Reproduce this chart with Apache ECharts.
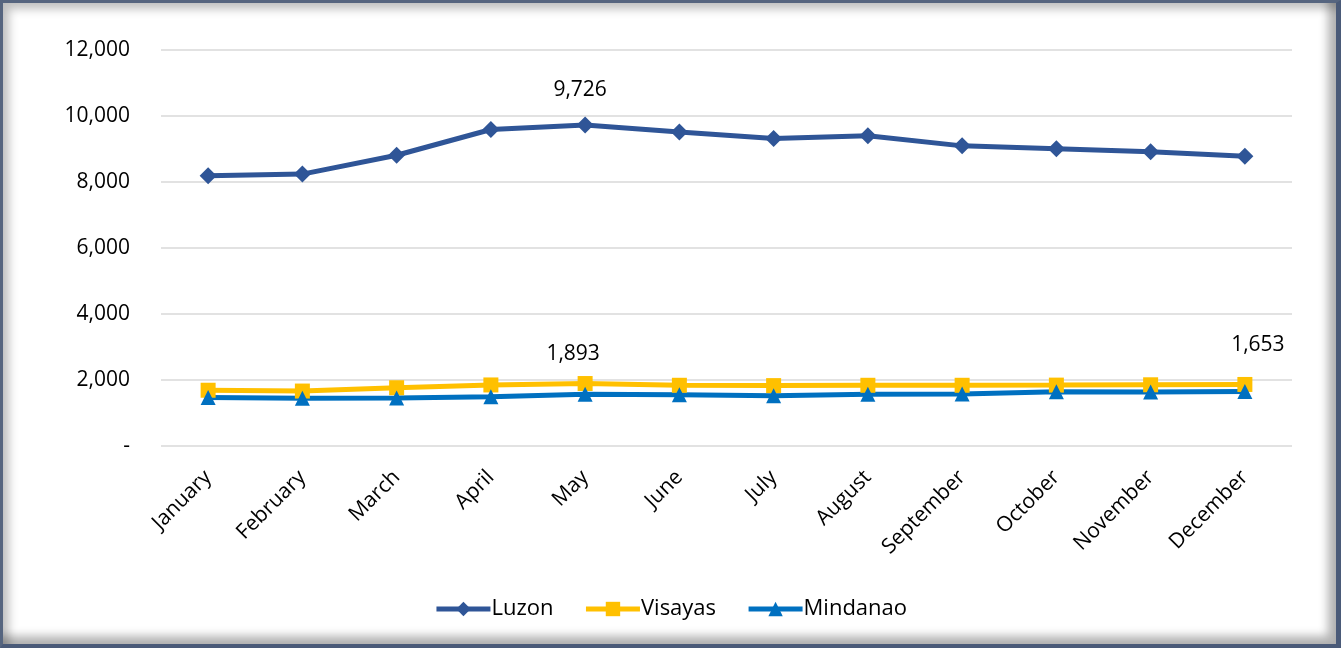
<!DOCTYPE html>
<html><head><meta charset="utf-8">
<script src="https://cdn.jsdelivr.net/npm/echarts@6/dist/echarts.min.js"></script>
<style>
html,body{margin:0;padding:0;background:#fff;}
#frame{position:absolute;left:0;top:0;width:1341px;height:648px;box-sizing:border-box;border-top:3px solid #56657f;border-left:3px solid #56657f;border-right:5px solid #4a5a78;border-bottom:4px solid #4a5a78;box-shadow:inset 6px 6px 10px rgba(0,0,0,0.25), inset -8px -8px 10px rgba(0,0,0,0.3);}
#chart{position:absolute;left:0;top:0;width:1341px;height:648px;}
</style></head><body>
<div id="chart"></div><div id="frame"></div>
<script>
const months = ['January','February','March','April','May','June','July','August','September','October','November','December'];
const luzon = [8190, 8240, 8810, 9590, 9726, 9515, 9320, 9400, 9095, 9005, 8915, 8780];
const visayas = [1690, 1665, 1765, 1850, 1893, 1840, 1830, 1840, 1840, 1845, 1855, 1865];
const mindanao = [1470, 1445, 1455, 1490, 1570, 1550, 1525, 1565, 1575, 1645, 1635, 1653];
const yTicks = [0, 2000, 4000, 6000, 8000, 10000, 12000];

const font = "'Open Sans', 'Liberation Sans', sans-serif";
const FS = 21;
const fmt = v => v === 0 ? '-' : v.toLocaleString('en-US');
const chart = echarts.init(document.getElementById('chart'));
function labelAt(idx, extra) {
  return Object.assign({
    show: true,
    formatter: p => p.dataIndex === idx ? fmt(p.value) : '',
    position: 'top', distance: 14,
    fontFamily: font, fontSize: FS, color: '#000'
  }, extra || {});
}
chart.setOption({
  animation: false,
  textStyle: {fontFamily: font},
  grid: {left: 161, right: 49, top: 50, bottom: 202, containLabel: false},
  legend: {
    bottom: 23, left: 'center', itemWidth: 54, itemHeight: 18, itemGap: 30,
    lineStyle: {width: 5},
    textStyle: {fontFamily: font, fontSize: 22, color: '#000', padding: [0, 0, 0, -4]},
    data: ['Luzon', 'Visayas', 'Mindanao']
  },
  xAxis: {
    type: 'category', data: months, boundaryGap: true,
    axisLine: {show: false}, axisTick: {show: false},
    axisLabel: {rotate: 45, fontFamily: font, fontSize: FS, color: '#000', margin: 28, interval: 0}
  },
  yAxis: {
    type: 'value', min: 0, max: 12000, interval: 2000,
    axisLine: {show: false}, axisTick: {show: false},
    splitLine: {lineStyle: {color: '#d9d9d9', width: 1.5}},
    axisLabel: {fontFamily: font, fontSize: FS, color: '#000', margin: 31, formatter: fmt}
  },
  series: [
    {name: 'Luzon', type: 'line', data: luzon, symbol: 'diamond', symbolSize: 17,
     lineStyle: {color: '#2F5597', width: 5}, itemStyle: {color: '#2F5597'},
     label: labelAt(4, {distance: 16, offset: [-5, 0]})},
    {name: 'Visayas', type: 'line', data: visayas, symbol: 'rect', symbolSize: 15,
     lineStyle: {color: '#FFC000', width: 5}, itemStyle: {color: '#FFC000'},
     label: labelAt(4, {distance: 12, offset: [-12, 0]})},
    {name: 'Mindanao', type: 'line', data: mindanao, symbol: 'triangle', symbolSize: 15,
     lineStyle: {color: '#0070C0', width: 5}, itemStyle: {color: '#0070C0'},
     label: labelAt(11, {distance: 14, offset: [13, -14]})}
  ]
});
</script></body></html>
